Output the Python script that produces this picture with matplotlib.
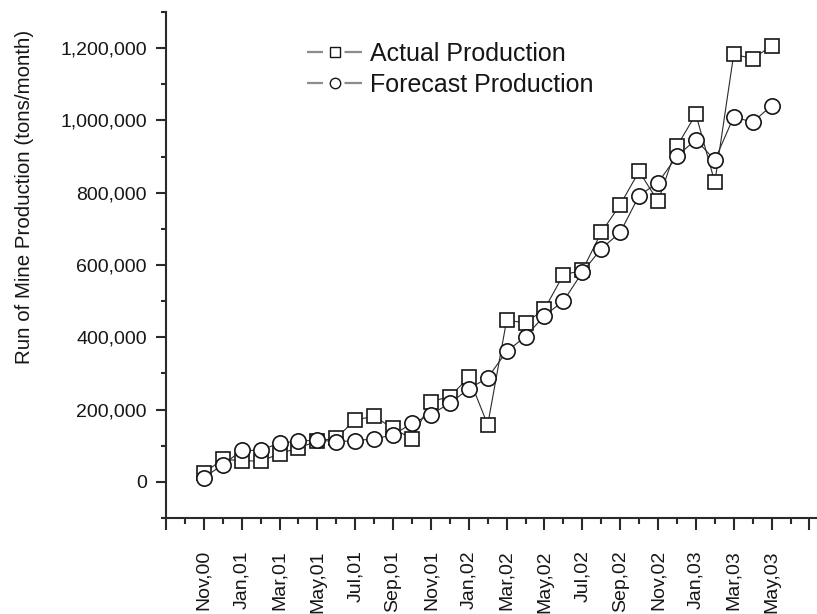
import matplotlib
matplotlib.use("Agg")
import matplotlib.pyplot as plt
from matplotlib.lines import Line2D
from matplotlib.legend_handler import HandlerTuple
from matplotlib.ticker import FixedLocator, MultipleLocator, FuncFormatter

# Monthly run-of-mine production, Nov 2000 - May 2003
months = ["Nov,00", "Dec,00", "Jan,01", "Feb,01", "Mar,01", "Apr,01", "May,01",
          "Jun,01", "Jul,01", "Aug,01", "Sep,01", "Oct,01", "Nov,01", "Dec,01",
          "Jan,02", "Feb,02", "Mar,02", "Apr,02", "May,02", "Jun,02", "Jul,02",
          "Aug,02", "Sep,02", "Oct,02", "Nov,02", "Dec,02", "Jan,03", "Feb,03",
          "Mar,03", "Apr,03", "May,03"]

actual = [25000, 62000, 59000, 57000, 78000, 94000, 113000, 121000, 172000,
          181000, 148000, 119000, 222000, 236000, 289000, 158000, 447000,
          440000, 478000, 573000, 585000, 690000, 767000, 859000, 776000,
          929000, 1017000, 829000, 1183000, 1171000, 1206000]

forecast = [12000, 47000, 87000, 87000, 108000, 112000, 116000, 111000, 114000,
            119000, 130000, 162000, 186000, 218000, 257000, 288000, 361000,
            402000, 460000, 500000, 580000, 645000, 690000, 792000, 828000,
            901000, 947000, 890000, 1010000, 995000, 1041000]

series_names = ["Actual Production", "Forecast Production"]
y_label = "Run of Mine Production (tons/month)"

TEXT = "#161616"
AX = "#2a2a2a"
W, H = 817, 614
plt.rcParams["lines.scale_dashes"] = False

fig = plt.figure(figsize=(W / 100, H / 100), dpi=100)
fig.patch.set_facecolor("white")
ax = fig.add_axes([166 / W, 1 - 518 / H, (W - 166) / W, (518 - 12) / H])

x = list(range(len(months)))

ax.plot(x, actual, color="#2b2b2b", lw=0.8, marker="s", ms=10.0,
        mfc="white", mec=TEXT, mew=1.2, zorder=3)
ax.plot(x, forecast, color="#2b2b2b", lw=0.8, marker="o", ms=11.0,
        mfc="white", mec=TEXT, mew=1.2, zorder=4)

ax.set_xlim(-2, 32.4)
ax.set_ylim(-100000, 1300000)

# Axes frame: only left and bottom lines
for side in ("top", "right"):
    ax.spines[side].set_visible(False)
for side in ("left", "bottom"):
    ax.spines[side].set_color(AX)
    ax.spines[side].set_linewidth(1.5)

# x ticks: one per month, labelled every second month
major_pos = list(range(-2, 33, 2))
major_lab = [months[p] if 0 <= p < len(months) else "" for p in major_pos]
ax.xaxis.set_major_locator(FixedLocator(major_pos))
ax.xaxis.set_minor_locator(MultipleLocator(1))
ax.set_xticklabels(major_lab, rotation=90, fontsize=14, color=TEXT,
                   family="Liberation Sans")
ax.tick_params(axis="x", which="major", direction="out", length=8.6,
               width=1.5, color=AX, pad=14.5)
ax.tick_params(axis="x", which="minor", direction="out", length=4.6,
               width=1.5, color=AX)

# y ticks with thousands separators
ax.yaxis.set_major_locator(MultipleLocator(200000))
ax.yaxis.set_minor_locator(MultipleLocator(100000))
ax.yaxis.set_major_formatter(FuncFormatter(lambda v, p: f"{v:,.0f}"))
ax.tick_params(axis="y", which="major", direction="out", length=7.2,
               width=1.5, color=AX, pad=6.5, labelsize=14, labelcolor=TEXT)
ax.tick_params(axis="y", which="minor", direction="out", length=3.6,
               width=1.5, color=AX)
for lab in ax.get_yticklabels():
    lab.set_family("Liberation Sans")

fig.text(25 / W, 1 - 197 / H, y_label, rotation=90, ha="center", va="center",
         fontsize=14.8, color=TEXT, family="Liberation Sans")

# Legend keys: short grey dashes on either side of a small open marker
def legend_key(marker, size):
    dash = Line2D([], [], color="#8c8c8c", lw=1.6,
                  linestyle=(0, (11.5, 15.5, 13.0, 40.0)))
    mark = Line2D([], [], ls="none", marker=marker, ms=size,
                  mfc="white", mec=TEXT, mew=1.0)
    return (dash, mark)

handles = [legend_key("s", 6.5), legend_key("o", 7.5)]
ax.legend(handles, series_names, loc="upper left",
          bbox_to_anchor=(307 / W, 1 - 42 / H), bbox_transform=fig.transFigure,
          handler_map={tuple: HandlerTuple(ndivide=1, pad=0)},
          frameon=False, borderaxespad=0, borderpad=0, handlelength=2.2,
          handletextpad=0.32, labelspacing=0.28,
          prop={"family": "Liberation Sans", "size": 18}, labelcolor=TEXT)

fig.savefig("out.png", dpi=100, facecolor="white")
